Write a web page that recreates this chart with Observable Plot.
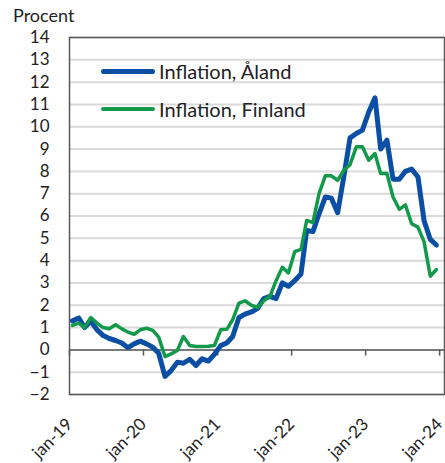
<!DOCTYPE html>
<html>
<head>
<meta charset="utf-8">
<script src="https://cdn.jsdelivr.net/npm/d3@7"></script>
<script src="https://cdn.jsdelivr.net/npm/@observablehq/plot@0.6"></script>
<style>
  html, body { margin: 0; padding: 0; background: #fff; }
  #wrap { position: relative; width: 445px; height: 463px; font-family: Lato, "Open Sans", sans-serif; color: #222; }
  #ylabel { position: absolute; left: 13px; top: 7px; font-size: 18px; line-height: 16px; }
  .leg { position: absolute; left: 101px; height: 20px; display: flex; align-items: center; font-size: 20px; }
  .leg .sw { display: inline-block; width: 54px; border-radius: 3px; margin-right: 4px; }
</style>
</head>
<body>
<div id="wrap">
  <div id="ylabel">Procent</div>
</div>
<script>
const startYear = 2019;
const seriesNames = ["Inflation, Åland", "Inflation, Finland"];
const seriesColors = ["#0a4fa3", "#12994a"];
const aland = [
  1.30, 1.43, 1.00, 1.28, 0.91, 0.64, 0.51, 0.42, 0.31, 0.10, 0.27, 0.39,
  0.27, 0.12, -0.15, -1.19, -0.93, -0.55, -0.60, -0.42, -0.70, -0.40, -0.50, -0.20,
  0.19, 0.32, 0.60, 1.45, 1.60, 1.70, 1.85, 2.30, 2.40, 2.30, 3.00, 2.85,
  3.10, 3.40, 5.35, 5.30, 6.10, 6.85, 6.80, 6.15, 7.80, 9.50, 9.70, 9.85,
  10.65, 11.30, 9.00, 9.40, 7.65, 7.65, 8.00, 8.10, 7.75, 5.80, 4.95, 4.70
];
const finland = [
  1.10, 1.20, 1.00, 1.45, 1.20, 1.00, 0.95, 1.13, 0.94, 0.80, 0.70, 0.90,
  0.97, 0.87, 0.57, -0.30, -0.18, -0.03, 0.60, 0.20, 0.15, 0.15, 0.16, 0.20,
  0.90, 0.93, 1.35, 2.10, 2.20, 2.00, 1.90, 2.20, 2.40, 3.10, 3.70, 3.45,
  4.40, 4.50, 5.80, 5.70, 7.00, 7.80, 7.80, 7.60, 8.05, 8.30, 9.10, 9.10,
  8.50, 8.80, 7.90, 7.90, 6.85, 6.30, 6.50, 5.65, 5.50, 4.85, 3.30, 3.60
];
const xTickLabels = ["jan-19", "jan-20", "jan-21", "jan-22", "jan-23", "jan-24"];
const yTicks = [-2, -1, 0, 1, 2, 3, 4, 5, 6, 7, 8, 9, 10, 11, 12, 13, 14];

const monthDate = (i) => new Date(Date.UTC(startYear + Math.floor(i / 12), i % 12, 16));
const data = [];
[aland, finland].forEach((vals, s) => vals.forEach((v, i) => data.push({series: seriesNames[s], date: monthDate(i), value: v})));
const yearTicks = xTickLabels.map((_, k) => new Date(Date.UTC(startYear + k, 0, 1)));
const labelOf = new Map(yearTicks.map((d, k) => [+d, xTickLabels[k]]));

const chart = Plot.plot({
  width: 445,
  height: 463,
  marginTop: 37,
  marginLeft: 69,
  marginRight: 1,
  marginBottom: 69,
  style: {fontFamily: "Lato, 'Open Sans', sans-serif", fontSize: "17px", color: "#222", background: "#fff"},
  x: {type: "utc", domain: [new Date(Date.UTC(2019, 0, 1)), new Date(Date.UTC(2024, 0, 25))]},
  y: {domain: [-2, 14]},
  color: {domain: seriesNames, range: seriesColors},
  marks: [
    Plot.gridY(yTicks, {stroke: "#d9d9d9", strokeOpacity: 1, strokeWidth: 2}),
    Plot.ruleY([0], {stroke: "#595959", strokeWidth: 1.5}),
    Plot.ruleX(yearTicks, {y1: 0, y2: -0.28, stroke: "#595959", strokeWidth: 1.5}),
    Plot.frame({stroke: "#595959", strokeWidth: 1.5}),
    Plot.axisY(yTicks, {tickSize: 0, tickPadding: 20, label: null, fontSize: 17}),
    Plot.axisX(yearTicks, {tickSize: 0, tickPadding: 27, tickRotate: -45, label: null, fontSize: 17, tickFormat: (d) => labelOf.get(+d)}),
    Plot.line(data.filter(d => d.series === seriesNames[0]), {x: "date", y: "value", stroke: seriesColors[0], strokeWidth: 5, strokeLinejoin: "round", strokeLinecap: "round"}),
    Plot.line(data.filter(d => d.series === seriesNames[1]), {x: "date", y: "value", stroke: seriesColors[1], strokeWidth: 3.5, strokeLinejoin: "round", strokeLinecap: "round"})
  ]
});
const wrap = document.getElementById("wrap");
wrap.insertBefore(chart, wrap.firstChild);

const legTops = [61, 99];
seriesNames.forEach((name, k) => {
  const row = document.createElement("div");
  row.className = "leg";
  row.style.top = legTops[k] + "px";
  const sw = document.createElement("span");
  sw.className = "sw";
  sw.style.background = seriesColors[k];
  sw.style.height = (k === 0 ? 5 : 4) + "px";
  row.appendChild(sw);
  row.appendChild(document.createTextNode(name));
  wrap.appendChild(row);
});
</script>
</body>
</html>
